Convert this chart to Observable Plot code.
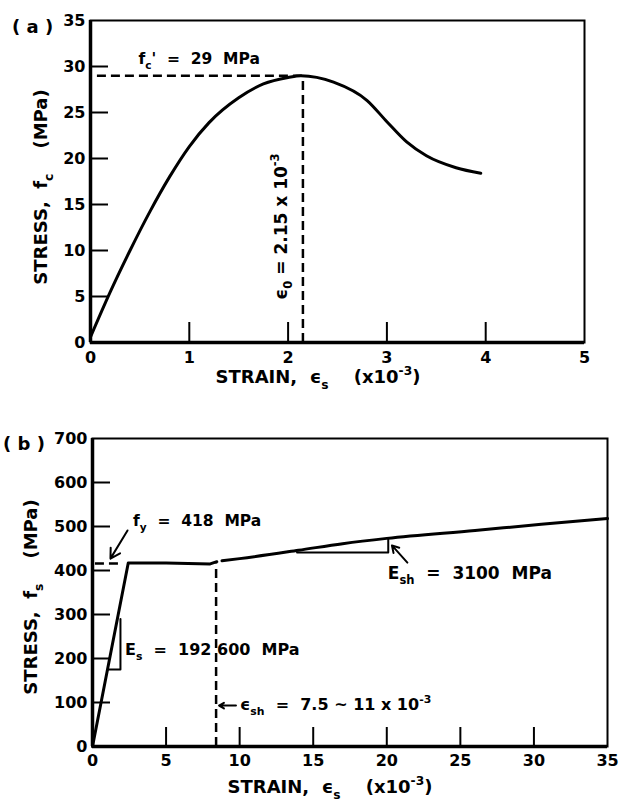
<!DOCTYPE html>
<html><head><meta charset="utf-8">
<script src="https://cdn.jsdelivr.net/npm/d3@7"></script>
<script src="https://cdn.jsdelivr.net/npm/@observablehq/plot@0.6"></script>
<style>
body{margin:0;background:#fff;}
#wrap{position:relative;width:623px;height:802px;}
#wrap svg{display:block;}
</style></head><body><div id="wrap"></div>
<script>
// ---- data (a) concrete ----
const concreteStrain = [0, 0.2, 0.4, 0.6, 0.8, 1.0, 1.2, 1.5, 1.75, 2.0, 2.13, 2.46, 2.8, 3.0, 3.2, 3.4, 3.7, 3.95];
const concreteStress = [0.6, 5.5, 10.0, 14.2, 18.0, 21.3, 23.9, 26.6, 28.1, 28.8, 29.0, 28.3, 26.3, 24.0, 21.8, 20.3, 19.0, 18.4];
const concreteXTicks = [0, 1, 2, 3, 4, 5];
const concreteYTicks = [0, 5, 10, 15, 20, 25, 30, 35];
const concreteInnerXTicks = [1, 2, 3, 4];
const concreteInnerYTicks = [5, 10, 15, 20, 25, 30];
const fcPeak = 29;
const eps0 = 2.15;

// ---- data (b) steel ----
const steelElasticStrain = [0, 2.43, 5.0, 8.0, 8.45];
const steelElasticStress = [0, 417, 417, 415, 420];
const steelHardStrain = [8.8, 10, 14, 17, 20, 26, 30.5, 35];
const steelHardStress = [422, 427, 446, 461, 473, 491, 505, 518];
const steelXTicks = [0, 5, 10, 15, 20, 25, 30, 35];
const steelYTicks = [0, 100, 200, 300, 400, 500, 600, 700];
const steelInnerXTicks = [5, 10, 15, 20, 25, 30];
const steelInnerYTicks = [100, 200, 300, 400, 500, 600];
const fy = 418;
const epsSh = 8.4;
const EsTriangleStrain = [1.05, 1.9, 1.9];
const EsTriangleStress = [175, 175, 290];
const EshTriangleStrain = [13.9, 20.1, 20.1];
const EshTriangleStress = [441, 441, 473];

const FONT = "'DejaVu Sans', sans-serif";
const zip = (xs, ys) => xs.map((x, i) => ({x, y: ys[i]}));

function sc(chart, name) {
  const s = chart.scale(name);
  return s.apply ? (v) => s.apply(v) : d3.scaleLinear(s.domain, s.range);
}
function rich(svg, {x, y, parts, size = 16, anchor = "start", rotate = 0}) {
  const t = d3.select(svg).append("text")
    .attr("x", x).attr("y", y)
    .attr("font-family", FONT).attr("font-weight", "bold").attr("font-size", size)
    .attr("text-anchor", anchor).attr("fill", "#000")
    .style("white-space", "pre");
  if (rotate) t.attr("transform", `rotate(${rotate},${x},${y})`);
  let off = 0;
  for (const p of parts) {
    const [s, kind] = Array.isArray(p) ? p : [p, ""];
    const target = kind === "sub" ? 0.32 * size : kind === "sup" ? -0.42 * size : 0;
    t.append("tspan").attr("dy", target - off).attr("font-size", kind ? 0.68 * size : size).text(s);
    off = target;
  }
}

const style = {fontFamily: FONT, fontSize: "16px", fontWeight: "bold", color: "#000", background: "#fff", overflow: "visible"};
const tickText = {fontSize: 16, fontWeight: "bold", fontFamily: FONT, fill: "#000", text: d => String(d)};
const dash = "9,5";

// ---------- chart (a) ----------
const WA = 623, HA = 400, mLA = 90, mRA = 39, mTA = 20, mBA = 58;
const fwA = WA - mLA - mRA, fhA = HA - mTA - mBA;
const chartA = Plot.plot({
  width: WA, height: HA, marginLeft: mLA, marginRight: mRA, marginTop: mTA, marginBottom: mBA,
  style,
  x: {domain: [0, 5], axis: null},
  y: {domain: [0, 35], axis: null},
  marks: [
    Plot.text(concreteXTicks, {x: d => d, frameAnchor: "bottom", dy: 15, lineAnchor: "middle", textAnchor: "middle", ...tickText}),
    Plot.text(concreteYTicks, {y: d => d, frameAnchor: "left", dx: -5, textAnchor: "end", lineAnchor: "middle", ...tickText}),
    Plot.tickX(concreteInnerXTicks, {x: d => d, insetTop: fhA - 20, strokeWidth: 2}),
    Plot.tickY(concreteInnerYTicks, {y: d => d, insetRight: fwA - 18, strokeWidth: 2}),
    Plot.frame({strokeWidth: 2}),
    Plot.ruleX([0], {strokeWidth: 3.5}),
    Plot.ruleY([0], {strokeWidth: 3.5}),
    Plot.ruleY([fcPeak], {x1: 0.07, x2: eps0, strokeDasharray: dash, strokeWidth: 2.5}),
    Plot.ruleX([eps0], {y1: 0, y2: fcPeak, strokeDasharray: dash, strokeWidth: 2.5}),
    Plot.line(zip(concreteStrain, concreteStress), {x: "x", y: "y", curve: "monotone-x", strokeWidth: 3})
  ]
});

// ---------- chart (b) ----------
const WB = 623, HB = 402, mLB = 92, mRB = 16, mTB = 38, mBB = 56;
const fwB = WB - mLB - mRB, fhB = HB - mTB - mBB;
const chartB = Plot.plot({
  width: WB, height: HB, marginLeft: mLB, marginRight: mRB, marginTop: mTB, marginBottom: mBB,
  style,
  x: {domain: [0, 35], axis: null},
  y: {domain: [0, 700], axis: null},
  marks: [
    Plot.text(steelXTicks, {x: d => d, frameAnchor: "bottom", dy: 14, lineAnchor: "middle", textAnchor: "middle", ...tickText}),
    Plot.text(steelYTicks, {y: d => d, frameAnchor: "left", dx: -5, textAnchor: "end", lineAnchor: "middle", ...tickText}),
    Plot.tickX(steelInnerXTicks, {x: d => d, insetTop: fhB - 19, strokeWidth: 2}),
    Plot.tickY(steelInnerYTicks, {y: d => d, insetRight: fwB - 18, strokeWidth: 2}),
    Plot.frame({strokeWidth: 2}),
    Plot.ruleX([0], {strokeWidth: 3.5}),
    Plot.ruleY([0], {strokeWidth: 3.5}),
    Plot.ruleY([fy - 2], {x1: 0.2, x2: 2.1, strokeDasharray: dash, strokeWidth: 2.5}),
    Plot.ruleX([epsSh], {y1: 0, y2: 415, strokeDasharray: dash, strokeWidth: 2.5}),
    Plot.line(zip(steelElasticStrain, steelElasticStress), {x: "x", y: "y", strokeWidth: 3}),
    Plot.line(zip(steelHardStrain, steelHardStress), {x: "x", y: "y", curve: "monotone-x", strokeWidth: 3}),
    Plot.line(zip(EsTriangleStrain, EsTriangleStress), {x: "x", y: "y", strokeWidth: 2}),
    Plot.line(zip(EshTriangleStrain, EshTriangleStress), {x: "x", y: "y", strokeWidth: 2}),
    Plot.arrow([{x1: 2.38, y1: 491, x2: 1.22, y2: 427}], {x1: "x1", y1: "y1", x2: "x2", y2: "y2", strokeWidth: 2, headLength: 9}),
    Plot.arrow([{x1: 21.4, y1: 418, x2: 20.35, y2: 457}], {x1: "x1", y1: "y1", x2: "x2", y2: "y2", strokeWidth: 2, headLength: 9}),
    Plot.arrow([{x1: 9.75, y1: 93, x2: 8.6, y2: 93}], {x1: "x1", y1: "y1", x2: "x2", y2: "y2", strokeWidth: 2, headLength: 8})
  ]
});

const wrap = document.getElementById("wrap");
wrap.appendChild(chartA);
wrap.appendChild(chartB);

// ---------- annotations (a) ----------
{
  const x = sc(chartA, "x"), y = sc(chartA, "y");
  rich(chartA, {x: 12, y: 33, size: 18, parts: ["( a )"]});
  rich(chartA, {x: x(0.49), y: y(30.2), size: 15.5, parts: ["f", ["c", "sub"], "'  =  29  MPa"]});
  rich(chartA, {x: x(1.99), y: y(4.6), size: 17, rotate: -90, parts: ["ϵ", ["0", "sub"], " = 2.15 x 10", ["-3", "sup"]]});
  rich(chartA, {x: 47, y: 187, size: 18, rotate: -90, anchor: "middle", parts: ["STRESS,  f", ["c", "sub"], "    (MPa)"]});
  rich(chartA, {x: 318, y: 383, size: 18, anchor: "middle", parts: ["STRAIN,  ", "ϵ", ["s", "sub"], "    (x10", ["-3", "sup"], ")"]});
}
// ---------- annotations (b) ----------
{
  const x = sc(chartB, "x"), y = sc(chartB, "y");
  rich(chartB, {x: 3, y: 50, size: 18, parts: ["( b )"]});
  rich(chartB, {x: x(2.79), y: y(500), size: 15.5, parts: ["f", ["y", "sub"], "  =  418  MPa"]});
  rich(chartB, {x: x(2.24), y: y(207), size: 16, parts: ["E", ["s", "sub"], "  =  192 600  MPa"]});
  rich(chartB, {x: x(10.06), y: y(82), size: 16, parts: ["ϵ", ["sh", "sub"], "  =  7.5 ~ 11 x 10", ["-3", "sup"]]});
  rich(chartB, {x: x(20.1), y: y(380), size: 17, parts: ["E", ["sh", "sub"], "  =  3100  MPa"]});
  rich(chartB, {x: 37, y: 197, size: 18, rotate: -90, anchor: "middle", parts: ["STRESS,  f", ["s", "sub"], "    (MPa)"]});
  rich(chartB, {x: 330, y: 393, size: 18, anchor: "middle", parts: ["STRAIN,  ", "ϵ", ["s", "sub"], "    (x10", ["-3", "sup"], ")"]});
}
</script></body></html>
